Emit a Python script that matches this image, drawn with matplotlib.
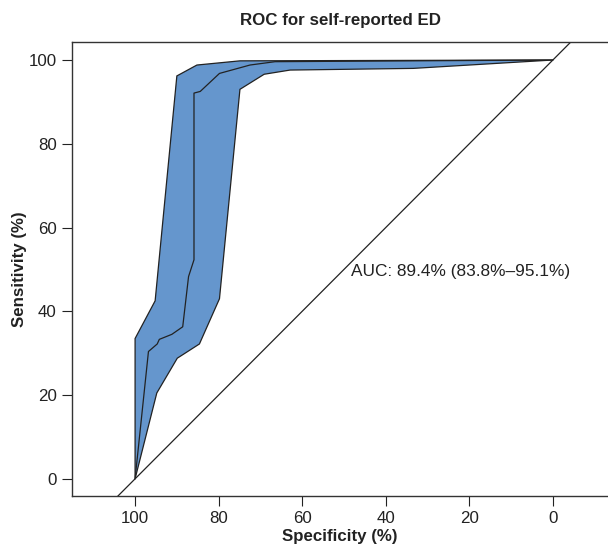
import numpy as np
import matplotlib.pyplot as plt

plt.rcParams['font.family'] = ['Liberation Sans', 'DejaVu Sans']

# ROC curve for self-reported ED (specificity %, sensitivity %)
spec_mid = [100, 96.8, 94.7, 94.2, 91.2, 88.6, 87.2, 85.9, 85.9, 84.4, 79.8, 72.5, 66.5, 0]
sens_mid = [0, 30.4, 32.2, 33.3, 34.5, 36.3, 48.3, 52.3, 92.1, 92.5, 96.8, 98.8, 99.6, 100]

# confidence band, upper edge
spec_hi = [100, 100, 95.2, 90, 85.2, 74.9, 0]
sens_hi = [0, 33.5, 42.5, 96.2, 98.8, 99.8, 100]

# confidence band, lower edge
spec_lo = [100, 94.8, 89.9, 84.6, 79.8, 74.9, 69.1, 62.9, 33.4, 0]
sens_lo = [0, 20.5, 28.8, 32.2, 43.0, 93.0, 96.6, 97.6, 98.0, 100]

auc_text = 'AUC: 89.4% (83.8%\u201395.1%)'

fig = plt.figure(figsize=(6.08, 5.53), dpi=100)
ax = fig.add_axes([72 / 608, 57 / 553, 536 / 608, 454 / 553])

poly_x = spec_hi + spec_lo[::-1]
poly_y = sens_hi + sens_lo[::-1]
ax.fill(poly_x, poly_y, facecolor='#6596CD', edgecolor='#222222', linewidth=0.9)
ax.plot(spec_mid, sens_mid, color='#222222', linewidth=0.9)

# chance diagonal
ax.plot([120, -20], [-20, 120], color='#222222', linewidth=0.9)

ax.text(48.2, 49.6, auc_text, fontsize=12.4, va='center', ha='left', color='#222222')

ax.set_xlim(115.1, -13.2)
ax.set_ylim(-4.1, 104.3)
ax.set_xticks([100, 80, 60, 40, 20, 0])
ax.set_yticks([0, 20, 40, 60, 80, 100])
ax.tick_params(direction='out', length=7, labelsize=12.2, colors='#222222', pad=4)
ax.spines['right'].set_visible(False)
for s in ['left', 'top', 'bottom']:
    ax.spines[s].set_color('#333333')
    ax.spines[s].set_linewidth(1.0)

ax.set_title('ROC for self-reported ED', fontsize=12.2, fontweight='bold', pad=12, color='#222222')
ax.set_xlabel('Specificity (%)', fontsize=12.2, fontweight='bold', labelpad=2, color='#222222')
ax.set_ylabel('Sensitivity (%)', fontsize=12.2, fontweight='bold', labelpad=1, color='#222222')

fig.savefig('out.png', dpi=100)
